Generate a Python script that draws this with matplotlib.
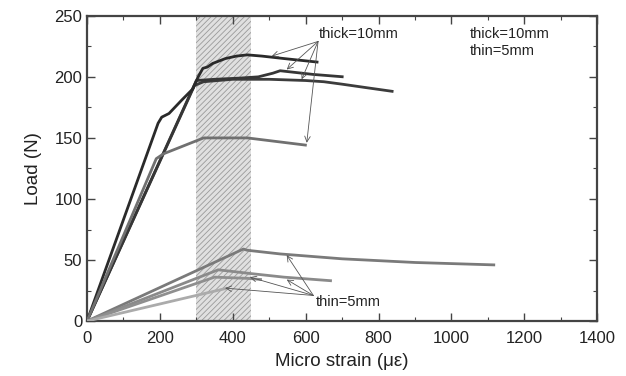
import matplotlib
matplotlib.use("Agg")
import matplotlib.pyplot as plt
from matplotlib.ticker import MultipleLocator

plt.rcParams["font.family"] = ["Liberation Sans", "DejaVu Sans"]
plt.rcParams["hatch.linewidth"] = 0.6

# thick plates (10 mm)
thick_a_x = [0, 195, 205, 225, 260, 290, 305, 318, 330, 345, 380, 410, 440, 480, 540, 635]
thick_a_y = [0, 162, 167, 170, 181, 190, 200, 207, 208, 211, 215, 217, 218, 217, 215, 212]
thick_b_x = [0, 300, 350, 420, 470, 510, 530, 560, 620, 704]
thick_b_y = [0, 197, 198, 199, 200, 203, 205, 204, 202, 200]
thick_c_x = [0, 295, 320, 400, 500, 600, 650, 700, 770, 841]
thick_c_y = [0, 193, 196, 198, 198, 197, 196, 194, 191, 188]
thick_d_x = [0, 190, 210, 320, 440, 603]
thick_d_y = [0, 133, 137, 150, 150, 144]

# thin plates (5 mm)
thin_a_x = [0, 429, 440, 530, 700, 900, 1120]
thin_a_y = [0, 59, 58, 55, 51, 48, 46]
thin_b_x = [0, 360, 447, 540, 672]
thin_b_y = [0, 42, 39, 36, 33]
thin_c_x = [0, 350, 440, 480]
thin_c_y = [0, 36, 35, 34]
thin_d_x = [0, 385]
thin_d_y = [0, 27]

band = (300, 450)

thick_arrow_tips = [(507, 217), (548, 206), (589, 198), (603, 146)]
thin_arrow_tips = [(548, 54), (548, 34), (447, 36), (379, 27)]

fig = plt.figure(figsize=(6.26, 3.76), dpi=100)
ax = fig.add_axes([0.139, 0.146, 0.815, 0.812])

ax.axvspan(band[0], band[1], facecolor="#e0e0e0", edgecolor="#9a9a9a",
           hatch="//////", linewidth=0, zorder=0)

for xs, ys, c in [(thick_c_x, thick_c_y, "#3c3c3c"),
                  (thick_b_x, thick_b_y, "#363636"),
                  (thick_a_x, thick_a_y, "#2a2a2a"),
                  (thick_d_x, thick_d_y, "#707070")]:
    ax.plot(xs, ys, color=c, lw=2.0, solid_capstyle="butt", zorder=3)

for xs, ys, c in [(thin_a_x, thin_a_y, "#7a7a7a"),
                  (thin_b_x, thin_b_y, "#8a8a8a"),
                  (thin_c_x, thin_c_y, "#8f8f8f"),
                  (thin_d_x, thin_d_y, "#ababab")]:
    ax.plot(xs, ys, color=c, lw=2.0, solid_capstyle="butt", zorder=3)

arrow = dict(arrowstyle="->", color="#555555", lw=0.6, shrinkA=0, shrinkB=0)
for tip in thick_arrow_tips:
    ax.annotate("", xy=tip, xytext=(634, 229), arrowprops=arrow, zorder=4)
for tip in thin_arrow_tips:
    ax.annotate("", xy=tip, xytext=(621, 21), arrowprops=arrow, zorder=4)

note = dict(fontsize=10.5, color="#222222", va="center", ha="left")
ax.text(637, 235, "thick=10mm", **note)
ax.text(629, 15.5, "thin=5mm", **note)
ax.text(1049, 235, "thick=10mm", **note)
ax.text(1049, 221, "thin=5mm", **note)

ax.set_xlim(0, 1400)
ax.set_ylim(0, 250)
ax.xaxis.set_major_locator(MultipleLocator(200))
ax.xaxis.set_minor_locator(MultipleLocator(100))
ax.yaxis.set_major_locator(MultipleLocator(50))
ax.yaxis.set_minor_locator(MultipleLocator(25))
ax.tick_params(which="both", direction="in", top=True, right=True,
               colors="#444444", labelcolor="#222222", labelsize=12)
ax.tick_params(which="major", length=6, width=1)
ax.tick_params(which="minor", length=3, width=0.8)
ax.tick_params(axis="x", pad=7)
for s in ax.spines.values():
    s.set_color("#444444")
    s.set_linewidth(1.6)

ax.set_xlabel("Micro strain (\u03bc\u03b5)", fontsize=13.5, color="#222222", labelpad=5)
ax.set_ylabel("Load (N)", fontsize=13.5, color="#222222", labelpad=9)

fig.savefig("out.png", dpi=100, facecolor="white")
